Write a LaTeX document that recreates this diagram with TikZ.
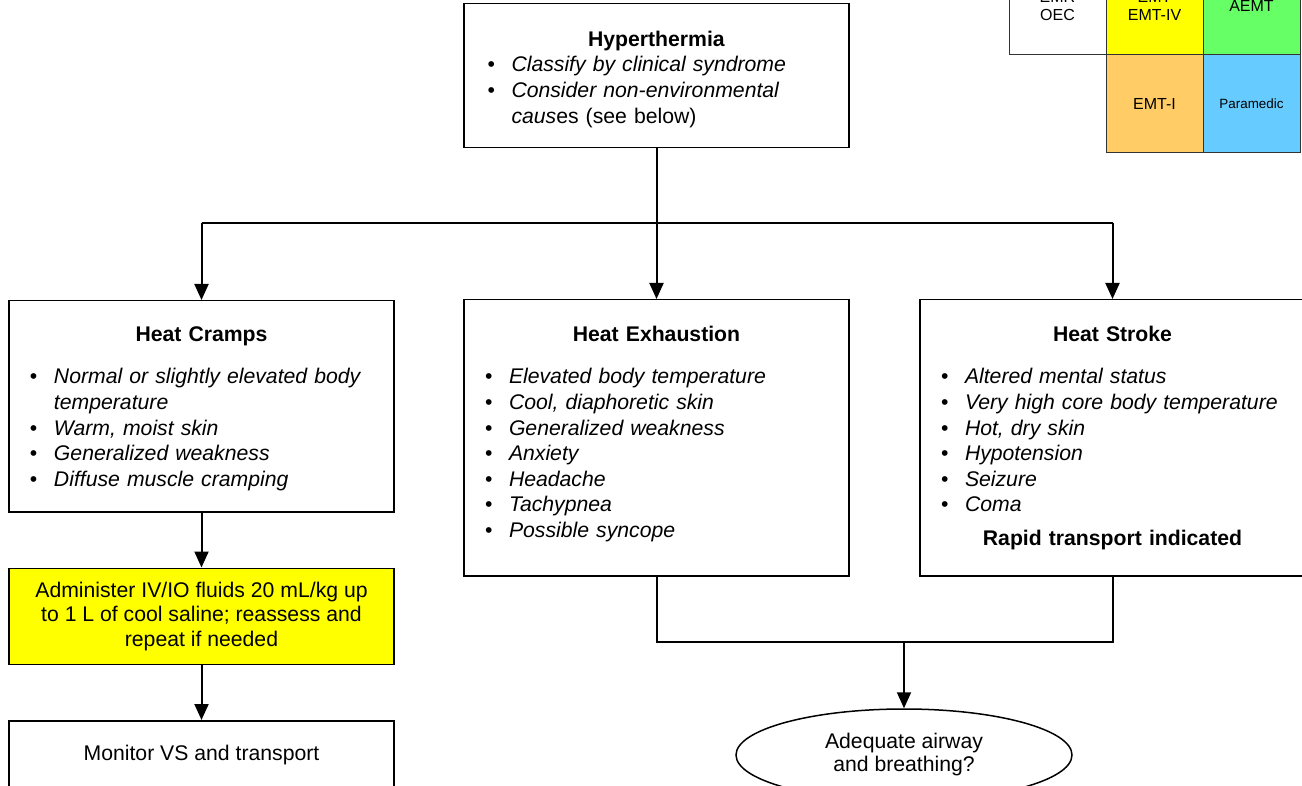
\documentclass[tikz,border=0pt]{standalone}
\usepackage{fontspec}
\setmainfont{Liberation Sans}
\usetikzlibrary{arrows.meta,positioning,shapes.geometric}

\definecolor{emtyellow}{HTML}{FFFF00}
\definecolor{aemtgreen}{HTML}{66FF66}
\definecolor{emtiorange}{HTML}{FFCC66}
\definecolor{medicblue}{HTML}{66CCFF}

\newcommand{\bodyfont}{\fontsize{21.2}{25.6}\selectfont}
\newcommand{\legendfont}{\fontsize{16}{18}\selectfont}
% one bullet line, one continuation line, a centred heading
\newlength{\bulw}\setlength{\bulw}{24pt}
\newcommand{\bul}[1]{\par\noindent\hbox{\hbox to \bulw{\textbullet\hfil}#1}}
\newcommand{\cont}[1]{\par\noindent\hbox{\hskip \bulw #1}}
\newcommand{\boxhead}[1]{\par\noindent\hbox to\hsize{\hss\textbf{#1}\hss}}

\begin{document}
\begin{tikzpicture}[
    x=1pt, y=-1pt,
    >={Triangle[length=16pt,width=14pt]},
    box/.style={
      rectangle, draw, line width=1.5pt, minimum width=385pt,
      inner sep=0pt, font=\bodyfont
    },
    listbox/.style={box, text width=343pt, inner xsep=21pt, anchor=north},
    cell/.style={
      rectangle, draw=black!80, line width=1pt, minimum width=97pt,
      minimum height=98pt, inner sep=0pt, outer sep=0pt, align=center,
      font=\legendfont
    },
    link/.style={line width=2pt},
    arr/.style={->, link}
  ]
  \useasboundingbox (0,0) rectangle (1302,786);
  \clip (0,0) rectangle (1302,786);

  % top box
  \node[listbox, text width=338pt, inner xsep=23pt,
        text height=17pt, text depth=127pt]
    (hyper) at (656.5,3) {%
    \boxhead{Hyperthermia}
    \bul{\textit{Classify by clinical syndrome}}
    \bul{\textit{Consider non-environmental}}
    \cont{\textit{caus}es (see below)}};

  % the three syndromes
  \node[listbox, text height=15pt, text depth=196pt]
    (cramps) at (201.5,300) {%
    \boxhead{Heat Cramps}\par\vskip 17pt
    \bul{\textit{Normal or slightly elevated body}}
    \cont{\textit{temperature}}
    \bul{\textit{Warm, moist skin}}
    \bul{\textit{Generalized weakness}}
    \bul{\textit{Diffuse muscle cramping}}};
  \node[listbox, text height=16pt, text depth=260pt]
    (exh) at (656.5,299) {%
    \boxhead{Heat Exhaustion}\par\vskip 17pt
    \bul{\textit{Elevated body temperature}}
    \bul{\textit{Cool, diaphoretic skin}}
    \bul{\textit{Generalized weakness}}
    \bul{\textit{Anxiety}}
    \bul{\textit{Headache}}
    \bul{\textit{Tachypnea}}
    \bul{\textit{Possible syncope}}};
  \node[listbox, text height=16pt, text depth=260pt]
    (stroke) at (1112.5,299) {%
    \boxhead{Heat Stroke}\par\vskip 17pt
    \bul{\textit{Altered mental status}}
    \bul{\textit{Very high core body temperature}}
    \bul{\textit{Hot, dry skin}}
    \bul{\textit{Hypotension}}
    \bul{\textit{Seizure}}
    \bul{\textit{Coma}}\par\vskip 8pt
    \boxhead{Rapid transport indicated}};

  % heat cramps treatment
  \node[box, fill=emtyellow, minimum height=96pt, align=center,
        font=\fontsize{21.2}{24.5}\selectfont, below=55pt of cramps] (fluids)
    {Administer IV/IO fluids 20 mL/kg up\\
     to 1 L of cool saline; reassess and\\
     repeat if needed};
  \node[box, minimum height=68pt, below=55pt of fluids] (monitor)
    {Monitor VS and transport};

  \node[ellipse, draw, line width=1.5pt, minimum width=336pt,
        minimum height=92pt, align=center,
        font=\fontsize{21.2}{23}\selectfont]
    (airway) at (904,755) {Adequate airway\\and breathing?};

  % provider level key
  \node[cell] (emr) at (1057.5,6) {EMR\\OEC};
  \node[cell, fill=emtyellow, right=0pt of emr] (emt) {EMT\\EMT-IV};
  \node[cell, fill=aemtgreen, right=0pt of emt] (aemt) {AEMT};
  \node[cell, fill=emtiorange, below=0pt of emt] (emti) {EMT-I};
  \node[cell, fill=medicblue, below=0pt of aemt,
        font=\fontsize{13.4}{15}\selectfont] (medic) {Paramedic};

  % connectors
  \coordinate (split) at (656.5,223);
  \coordinate (merge) at (904,642);
  \draw[arr] (hyper.south) -- (exh.north);
  \draw[link] (split -| cramps.north) -- (split -| stroke.north);
  \draw[arr] (split -| cramps.north) -- (cramps.north);
  \draw[arr] (split -| stroke.north) -- (stroke.north);
  \draw[arr] (cramps) -- (fluids);
  \draw[arr] (fluids) -- (monitor);
  \draw[link] (exh.south) |- (merge) -| (stroke.south);
  \draw[arr] (merge) -- (airway);
\end{tikzpicture}
\end{document}
